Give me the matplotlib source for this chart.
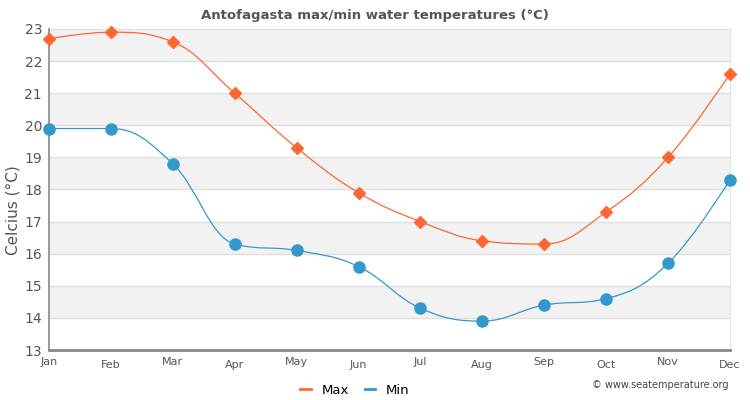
import numpy as np
import matplotlib
matplotlib.use("Agg")
import matplotlib.pyplot as plt
from matplotlib.path import Path
from matplotlib.patches import PathPatch
from matplotlib.lines import Line2D

months = ["Jan", "Feb", "Mar", "Apr", "May", "Jun", "Jul", "Aug", "Sep", "Oct", "Nov", "Dec"]
t_max = [22.7, 22.9, 22.6, 21.0, 19.3, 17.9, 17.0, 16.4, 16.3, 17.3, 19.0, 21.6]
t_min = [19.9, 19.9, 18.8, 16.3, 16.1, 15.6, 14.3, 13.9, 14.4, 14.6, 15.7, 18.3]

MAX_COLOR = "#ff6633"
MIN_COLOR = "#3399cc"


def spline_path(xs, ys, smoothing=1.5):
    # highcharts-like spline: cubic bezier control points per point
    n = len(xs)
    denom = smoothing + 1
    left = [(xs[i], ys[i]) for i in range(n)]
    right = [(xs[i], ys[i]) for i in range(n)]
    for i in range(1, n - 1):
        px, py = xs[i], ys[i]
        lx, ly = xs[i - 1], ys[i - 1]
        nx, ny = xs[i + 1], ys[i + 1]
        lcx = (smoothing * px + lx) / denom
        lcy = (smoothing * py + ly) / denom
        rcx = (smoothing * px + nx) / denom
        rcy = (smoothing * py + ny) / denom
        if rcx != lcx:
            corr = (rcy - lcy) * (rcx - px) / (rcx - lcx) + py - rcy
            lcy += corr
            rcy += corr
        if lcy > max(ly, py):
            lcy = max(ly, py)
            rcy = 2 * py - lcy
        elif lcy < min(ly, py):
            lcy = min(ly, py)
            rcy = 2 * py - lcy
        if rcy > max(py, ny):
            rcy = max(py, ny)
            lcy = 2 * py - rcy
        elif rcy < min(py, ny):
            rcy = min(py, ny)
            lcy = 2 * py - rcy
        left[i] = (lcx, lcy)
        right[i] = (rcx, rcy)
    verts = [(xs[0], ys[0])]
    codes = [Path.MOVETO]
    for i in range(1, n):
        verts += [right[i - 1], left[i], (xs[i], ys[i])]
        codes += [Path.CURVE4] * 3
    return Path(verts, codes)


fig = plt.figure(figsize=(7.5, 4), dpi=100)
ax = fig.add_axes([0.0653, 0.125, 0.908, 0.8025])

x = np.arange(len(months))

# alternating bands
for lo in range(14, 23, 2):
    ax.axhspan(lo, lo + 1, color="#f2f2f2", zorder=0, lw=0)
ax.set_ylim(13, 23)
ax.set_xlim(0, 11)
ax.set_yticks(range(13, 24))
ax.yaxis.grid(True, color="#e0e0e0", lw=1, zorder=1)
ax.set_axisbelow(True)

for vals, col, mk, ms in [(t_max, MAX_COLOR, "D", 6), (t_min, MIN_COLOR, "o", 8)]:
    ax.add_patch(PathPatch(spline_path(list(x), vals), fill=False, edgecolor=col,
                           lw=0.9, zorder=3, clip_on=False))
    ax.plot(x, vals, ls="none", marker=mk, ms=ms, color=col, zorder=4, clip_on=False)

ax.set_xticks(x)
ax.set_xticklabels(months)
ax.tick_params(axis="x", length=0, pad=5, labelsize=8, colors="#555555")
ax.tick_params(axis="y", length=0, pad=5, labelsize=10, colors="#555555")
for lbl in ax.get_xticklabels()[1::2]:
    lbl.set_y(-0.008)

ax.spines["top"].set_visible(False)
ax.spines["right"].set_color("#e6e6e6")
ax.spines["left"].set_color("#888888")
ax.spines["left"].set_linewidth(1.2)
ax.spines["bottom"].set_color("#888888")
ax.spines["bottom"].set_linewidth(2)

fig.text(0.017, 0.475, "Celcius (°C)", rotation=90, ha="center", va="center",
         fontsize=11, color="#555555")
fig.text(0.5, 0.96, "Antofagasta max/min water temperatures (°C)", ha="center", va="center",
         fontsize=9.5, fontweight="bold", color="#555555")

handles = [Line2D([], [], color=MAX_COLOR, lw=2), Line2D([], [], color=MIN_COLOR, lw=2)]
fig.legend(handles, ["Max", "Min"], loc="center", bbox_to_anchor=(0.473, 0.025), ncol=2,
           frameon=False, fontsize=9.5, handlelength=0.8, columnspacing=1.2, handletextpad=0.8)
fig.text(0.972, 0.037, "© www.seatemperature.org", ha="right", va="center",
         fontsize=7, color="#444444")

fig.savefig("out.png", dpi=100)
